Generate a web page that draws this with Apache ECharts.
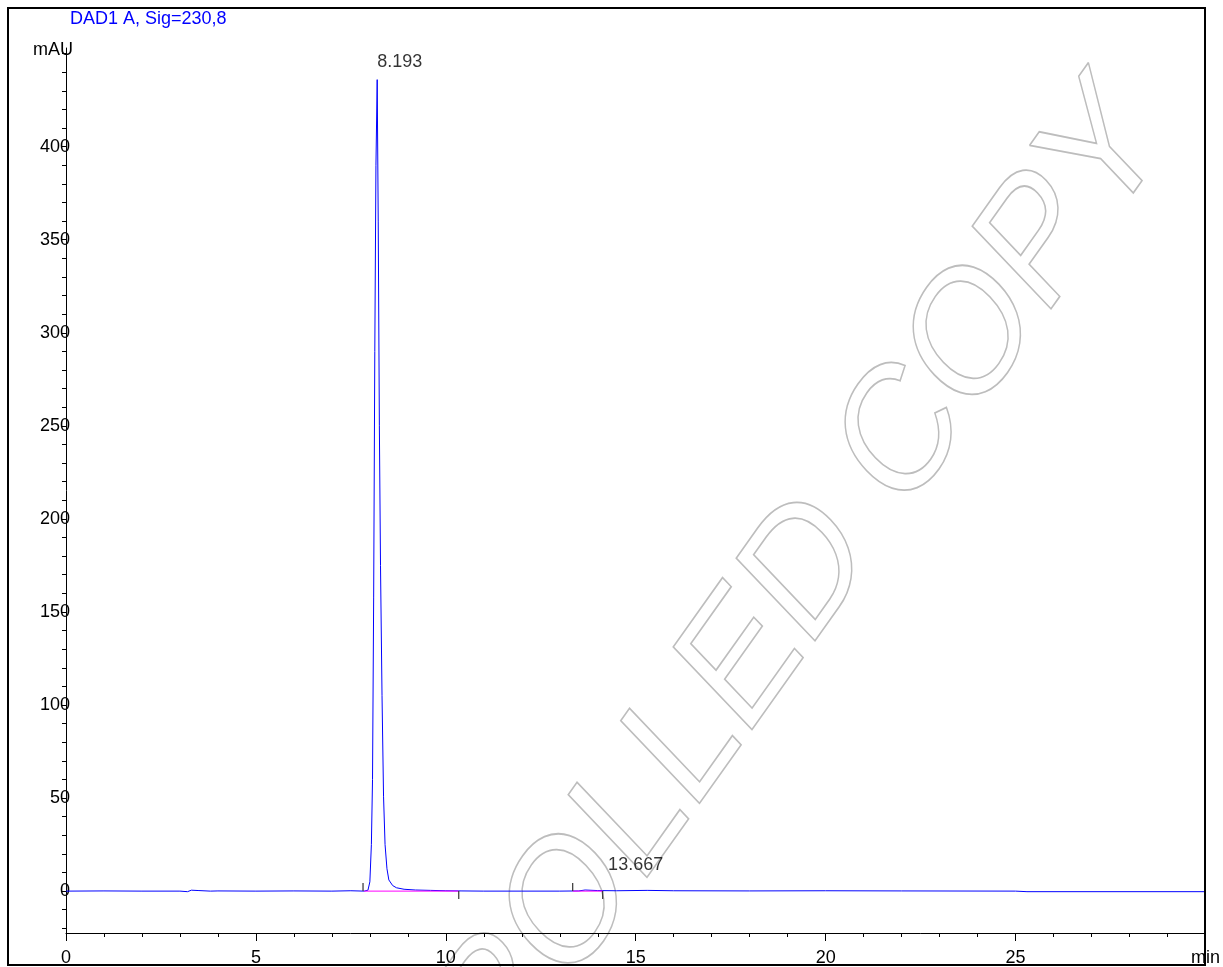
<!DOCTYPE html>
<html>
<head>
<meta charset="utf-8">
<script src="https://cdn.jsdelivr.net/npm/echarts@6/dist/echarts.min.js"></script>
<style>
  html, body { margin: 0; padding: 0; background: #fff; }
  #chart { width: 1223px; height: 967px; }
</style>
</head>
<body>
<div id="chart"></div>
<script>
// Signal trace (min, mAU)
const times = [0, 1, 2, 3.0, 3.2, 3.3, 3.5, 3.8, 4.0, 5, 6, 7, 7.5, 7.85, 7.95, 8.00, 8.04, 8.07, 8.10, 8.13, 8.16, 8.193,
    8.22, 8.25, 8.28, 8.32, 8.36, 8.40, 8.45, 8.50, 8.6, 8.7, 8.9, 9.2, 9.6, 10.0, 10.4, 11, 12, 13, 13.5, 13.667,
    14.0, 14.5, 15.3, 16, 18, 20, 22, 25, 25.3, 30];
const signal = [0, 0.1, 0, 0, -0.3, 0.5, 0.3, 0, 0.1, 0, 0.1, 0, 0.2, 0, 0.5, 5, 25, 60, 158, 290, 390, 436,
    360, 250, 175, 105, 51, 25, 12, 6, 3, 1.8, 1, 0.6, 0.4, 0.2, 0.1, 0, 0, 0, 0.1, 0.6,
    0.3, 0.2, 0.4, 0.2, 0.1, 0.2, 0.1, 0, -0.3, -0.3];

// Peak labels
const peakTimes = [8.193, 13.667];
const peakHeights = [436, 0.6];

// Integration baselines and their start/end marks (dir 1 = up, -1 = down)
const baseStarts = [7.85, 13.34];
const baseEnds = [10.34, 14.13];
const markTimes = [7.82, 10.34, 13.34, 14.13];
const markDirs = [1, -1, 1, -1];

const yTicks = [0, 50, 100, 150, 200, 250, 300, 350, 400];
const yMinor = [-20, -10, 0, 10, 20, 30, 40, 50, 60, 70, 80, 90, 100, 110, 120, 130, 140, 150, 160, 170, 180, 190, 200,
    210, 220, 230, 240, 250, 260, 270, 280, 290, 300, 310, 320, 330, 340, 350, 360, 370, 380, 390, 400, 410, 420, 430, 440, 450];

const font = '"Liberation Sans", Arial, sans-serif';

const traceData = times.map((t, i) => [t, signal[i]]);
const baseData = [];
baseStarts.forEach((s, i) => {
    baseData.push([s, 0], [baseEnds[i], 0], null);
});

var chart = echarts.init(document.getElementById('chart'));
var option = {
    animation: false,
    title: {
        text: 'DAD1 A, Sig=230,8',
        left: 70,
        top: 10,
        padding: 0,
        textStyle: { color: '#0000ff', fontSize: 18, fontWeight: 'normal', fontFamily: font }
    },
    graphic: [
        {
            type: 'rect',
            shape: { x: 8, y: 8, width: 1197, height: 957 },
            style: { fill: 'none', stroke: '#000', lineWidth: 2 },
            z: 10, silent: true
        },
        {
            type: 'text',
            x: 668, y: 770,
            rotation: 54.6 * Math.PI / 180,
            skewX: -11 * Math.PI / 180,
            style: {
                text: 'CONTROLLED COPY',
                font: '163px ' + font,
                fill: 'none',
                stroke: '#bdbdbd',
                lineWidth: 1.6,
                align: 'center',
                verticalAlign: 'middle'
            },
            z: 0, silent: true
        },
        {
            type: 'text',
            x: 33, y: 50,
            style: { text: 'mAU', font: '18px ' + font, fill: '#000', verticalAlign: 'middle' },
            z: 5
        }
    ],
    grid: { left: 66, right: 17, top: 48, bottom: 30 },
    xAxis: {
        type: 'value',
        min: 0, max: 30, interval: 5,
        axisLine: { onZero: false, lineStyle: { color: '#000', width: 1 } },
        axisTick: { length: 8, lineStyle: { color: '#000' } },
        minorTick: { show: true, splitNumber: 5, length: 4, lineStyle: { color: '#000' } },
        splitLine: { show: false },
        axisLabel: {
            color: '#000', fontSize: 18, fontFamily: font, margin: 16,
            formatter: v => (v === 30 ? 'min' : String(v))
        }
    },
    yAxis: {
        type: 'value',
        min: -22.5, max: 453,
        axisLine: { show: true, onZero: false, lineStyle: { color: '#000', width: 1 } },
        axisTick: { show: true, length: 4, customValues: yMinor, lineStyle: { color: '#000' } },
        splitLine: { show: false },
        axisLabel: {
            color: '#000', fontSize: 18, fontFamily: font, margin: -4,
            customValues: yTicks
        }
    },
    series: [
        {
            type: 'line',
            data: traceData,
            showSymbol: false,
            lineStyle: { color: '#0000ff', width: 1 },
            z: 3
        },
        {
            type: 'line',
            data: baseData,
            showSymbol: false,
            connectNulls: false,
            lineStyle: { color: '#ff00ff', width: 1 },
            z: 4
        },
        {
            type: 'custom',
            data: markTimes.map((t, i) => [t, markDirs[i]]),
            renderItem: function (params, api) {
                const p = api.coord([api.value(0), 0]);
                const d = api.value(1);
                return {
                    type: 'line',
                    shape: { x1: p[0], y1: p[1], x2: p[0], y2: p[1] - d * 8 },
                    style: { stroke: '#333', lineWidth: 1.2 }
                };
            },
            z: 5
        },
        {
            type: 'scatter',
            data: peakTimes.map((t, i) => [t, peakHeights[i]]),
            symbolSize: 0,
            label: {
                show: true,
                formatter: p => p.value[0].toFixed(3),
                color: '#000', fontSize: 18, fontFamily: font,
                align: 'left', verticalAlign: 'middle'
            },
            labelLayout: function (params) {
                return params.dataIndex === 0
                    ? { dx: 0, dy: -18 }
                    : { dx: 23, dy: -25 };
            },
            z: 6
        }
    ]
};
option && chart.setOption(option);
</script>
</body>
</html>
